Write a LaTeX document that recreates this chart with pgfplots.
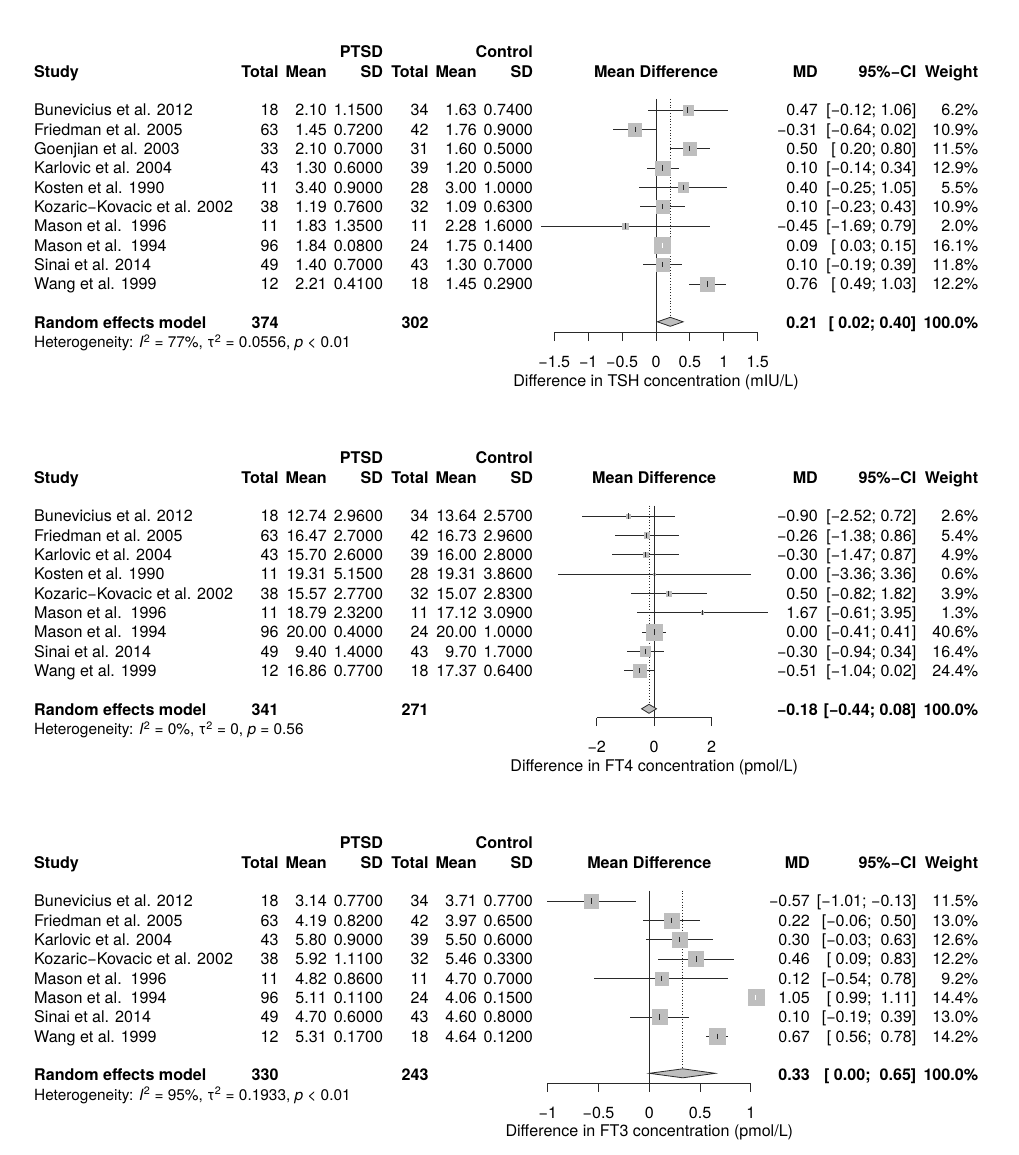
\documentclass[border=0pt]{standalone}
\usepackage{fontspec}
\setmainfont{TeX Gyre Heros}
\usepackage{pgfplots}
\usepackage{pgfplotstable}
\pgfplotsset{compat=1.18}
\definecolor{sqgray}{HTML}{BEBEBE}
\definecolor{lncol}{HTML}{2A2A2A}
\newcommand{\fs}{\fontsize{16.1}{19}\selectfont}
\newcommand{\fsh}{\fontsize{15.4}{18}\selectfont}

% y = -(pixel row), md, lower, upper, weight, k (1 = black CI, 0 = white CI)
\pgfplotstableread{
y md lo hi w k
-110 0.47 -0.12 1.06 6.2 1
-129.33 -0.31 -0.64 0.02 10.9 1
-148.67 0.50 0.20 0.80 11.5 1
-168 0.10 -0.14 0.34 12.9 1
-187.33 0.40 -0.25 1.05 5.5 1
-206.67 0.10 -0.23 0.43 10.9 1
-226 -0.45 -1.69 0.79 2.0 1
-245.33 0.09 0.03 0.15 16.1 0
-264.67 0.10 -0.19 0.39 11.8 1
-284 0.76 0.49 1.03 12.2 1
}\tabA
\pgfplotstableread{
y md lo hi w k
-516 -0.90 -2.52 0.72 2.6 1
-535.33 -0.26 -1.38 0.86 5.4 1
-554.67 -0.30 -1.47 0.87 4.9 1
-574 0.00 -3.36 3.36 0.6 1
-593.33 0.50 -0.82 1.82 3.9 1
-612.67 1.67 -0.61 3.95 1.3 1
-632 0.00 -0.41 0.41 40.6 1
-651.33 -0.30 -0.94 0.34 16.4 1
-670.67 -0.51 -1.04 0.02 24.4 1
}\tabB
\pgfplotstableread{
y md lo hi w k
-901 -0.57 -1.01 -0.13 11.5 1
-920.33 0.22 -0.06 0.50 13.0 1
-939.67 0.30 -0.03 0.63 12.6 1
-959 0.46 0.09 0.83 12.2 1
-978.33 0.12 -0.54 0.78 9.2 1
-997.67 1.05 0.99 1.11 14.4 0
-1017 0.10 -0.19 0.39 13.0 1
-1036.33 0.67 0.56 0.78 14.2 1
}\tabC

\pgfplotsset{
  forest/.style={scale only axis, clip=false,
    axis x line=bottom, axis y line=none,
    axis line style={-, line width=0.9pt, lncol},
    tick align=outside, major tick length=8.5pt,
    tick style={line width=0.9pt, lncol},
    ytick=\empty,
    xticklabel style={anchor=base, yshift=-26.7pt, font=\fs},
    xlabel style={at={(axis description cs:0.5,0)}, anchor=base, yshift=-53.5pt, font=\fs}},
  sq/.style={scatter, only marks, mark=square*,
    scatter/use mapped color={draw=sqgray, fill=sqgray},
    visualization depends on={8*sqrt(\thisrow{w}/#1)\as\msz},
    scatter/@pre marker code/.append style={/tikz/mark size=\msz}},
  ciblack/.style={only marks, mark=|, mark size=2.6pt, mark options={lncol, line width=0.9pt},
    restrict expr to domain={\thisrow{k}}{0.5:1.5},
    error bars/.cd, x dir=both, x explicit, error mark=none,
    error bar style={lncol, line width=0.9pt}},
  ciwhite/.style={only marks, mark=|, mark size=2.6pt, mark options={white, line width=0.9pt},
    restrict expr to domain={\thisrow{k}}{-0.5:0.5},
    error bars/.cd, x dir=both, x explicit, error mark=none,
    error bar style={white, line width=0.9pt}},
}

% column right edges (same in all three panels)
\def\xTa{278.8}\def\xTah{278.8}\def\xMa{327}\def\xSa{383.2}
\def\xTb{428.7}\def\xTbh{428.7}\def\xMb{476.9}\def\xSb{533.1}

\newcommand{\studyrows}[1]{%
  \foreach \qy/\qn/\qa/\qb/\qc/\qd/\qe/\qf/\qg/\qh/\qi in {#1}{%
    \node[L] at (34,\qy) {\qn};
    \node[R] at (\xTa,\qy) {\qa};
    \node[R] at (\xMa,\qy) {\qb};
    \node[R] at (\xSa,\qy) {\qc};
    \node[R] at (\xTb,\qy) {\qd};
    \node[R] at (\xMb,\qy) {\qe};
    \node[R] at (\xSb,\qy) {\qf};
    \node[R] at (\xMD,\qy) {\qg};
    \node[R] at (916.5,\qy) {\qh};
    \node[R] at (978.3,\qy) {\qi};
  }}
\newcommand{\headers}[3]{%
  \node[R,B] at (\xSa,#1) {PTSD};
  \node[R,B] at (\xSb,#1) {Control};
  \node[L,B] at (34,#2) {Study};
  \node[R,B] at (\xTah,#2) {Total};
  \node[R,B] at (\xMa,#2) {Mean};
  \node[R,B] at (\xSa,#2) {SD};
  \node[R,B] at (\xTbh,#2) {Total};
  \node[R,B] at (\xMb,#2) {Mean};
  \node[R,B] at (\xSb,#2) {SD};
  \node[C,B] at (#3,#2) {Mean Difference};
  \node[R,B] at (\xMD,#2) {MD};
  \node[R,B] at (916.5,#2) {95\%−CI};
  \node[R,B] at (978.3,#2) {Weight};
}
\newcommand{\randrow}[6]{%
  \node[L,B] at (34,#1) {Random effects model};
  \node[R,B] at (\xTa,#1) {#2};
  \node[R,B] at (\xTb,#1) {#3};
  \node[R,B] at (\xMD,#1) {#4};
  \node[R,B] at (916.5,#1) {#5};
  \node[R,B] at (978.3,#1) {#6};
}

\begin{document}
\begin{tikzpicture}[x=1pt,y=-1pt,font=\fs,
  R/.style={anchor=base east, inner sep=0pt},
  L/.style={anchor=base west, inner sep=0pt},
  C/.style={anchor=base, inner sep=0pt},
  B/.style={font=\fs\bfseries}]
\useasboundingbox (0,0) rectangle (1018,1155);

% ---------------- Panel 1: TSH ----------------
\def\xMD{818}
\headers{57.8}{77.1}{656}
\studyrows{
115.8/Bunevicius et al. 2012/18/2.10/1.1500/34/1.63/0.7400/0.47/{[−0.12; 1.06]}/6.2\%,
135.13/Friedman et al. 2005/63/1.45/0.7200/42/1.76/0.9000/−0.31/{[−0.64; 0.02]}/10.9\%,
154.47/Goenjian et al. 2003/33/2.10/0.7000/31/1.60/0.5000/0.50/{[~0.20; 0.80]}/11.5\%,
173.8/Karlovic et al. 2004/43/1.30/0.6000/39/1.20/0.5000/0.10/{[−0.14; 0.34]}/12.9\%,
193.13/Kosten et al. 1990/11/3.40/0.9000/28/3.00/1.0000/0.40/{[−0.25; 1.05]}/5.5\%,
212.47/Kozaric−Kovacic et al. 2002/38/1.19/0.7600/32/1.09/0.6300/0.10/{[−0.23; 0.43]}/10.9\%,
231.8/{Mason et al.\ \ 1996}/11/1.83/1.3500/11/2.28/1.6000/−0.45/{[−1.69; 0.79]}/2.0\%,
251.13/{Mason et al.\ \ 1994}/96/1.84/0.0800/24/1.75/0.1400/0.09/{[~0.03; 0.15]}/16.1\%,
270.47/Sinai et al. 2014/49/1.40/0.7000/43/1.30/0.7000/0.10/{[−0.19; 0.39]}/11.8\%,
289.8/Wang et al. 1999/12/2.21/0.4100/18/1.45/0.2900/0.76/{[~0.49; 1.03]}/12.2\%}
\randrow{328.47}{374}{302}{0.21}{[~0.02; 0.40]}{100.0\%}
\node[L,font=\fsh] at (34,347.6) {Heterogeneity: \textit{I}\textsuperscript{2} = 77\%, τ\textsuperscript{2} = 0.0556, \textit{p} < 0.01};

\begin{axis}[forest, at={(554.3pt,-332.5pt)}, anchor=south west,
  width=203.4pt, height=233.5pt, xmin=-1.5, xmax=1.5, ymin=-332.5, ymax=-99,
  xtick={-1.5,-1,-0.5,0,0.5,1,1.5}, xticklabels={−1.5,−1,−0.5,0,0.5,1,1.5},
  xlabel={Difference in TSH concentration (mIU/L)}]
\addplot[lncol, line width=0.9pt] coordinates {(0,-99) (0,-332.5)};
\addplot[lncol, dotted, line width=0.8pt] coordinates {(0.21,-99) (0.21,-317.3)};
\addplot[sq=16.1] table[x=md,y=y] {\tabA};
\addplot[ciblack] table[x=md, y=y, x error plus expr=\thisrow{hi}-\thisrow{md}, x error minus expr=\thisrow{md}-\thisrow{lo}] {\tabA};
\addplot[ciwhite] table[x=md, y=y, x error plus expr=\thisrow{hi}-\thisrow{md}, x error minus expr=\thisrow{md}-\thisrow{lo}] {\tabA};
\addplot[fill=sqgray, draw=lncol, line width=0.8pt] coordinates {(0.02,-321.8) (0.21,-317.3) (0.40,-321.8) (0.21,-326.3)} -- cycle;
\end{axis}

% ---------------- Panel 2: FT4 ----------------
\def\xMD{818}
\headers{463.8}{483.13}{654.2}
\studyrows{
521.8/Bunevicius et al. 2012/18/12.74/2.9600/34/13.64/2.5700/−0.90/{[−2.52; 0.72]}/2.6\%,
541.13/Friedman et al. 2005/63/16.47/2.7000/42/16.73/2.9600/−0.26/{[−1.38; 0.86]}/5.4\%,
560.47/Karlovic et al. 2004/43/15.70/2.6000/39/16.00/2.8000/−0.30/{[−1.47; 0.87]}/4.9\%,
579.8/Kosten et al. 1990/11/19.31/5.1500/28/19.31/3.8600/0.00/{[−3.36; 3.36]}/0.6\%,
599.13/Kozaric−Kovacic et al. 2002/38/15.57/2.7700/32/15.07/2.8300/0.50/{[−0.82; 1.82]}/3.9\%,
618.47/{Mason et al.\ \ 1996}/11/18.79/2.3200/11/17.12/3.0900/1.67/{[−0.61; 3.95]}/1.3\%,
637.8/{Mason et al.\ \ 1994}/96/20.00/0.4000/24/20.00/1.0000/0.00/{[−0.41; 0.41]}/40.6\%,
657.13/Sinai et al. 2014/49/9.40/1.4000/43/9.70/1.7000/−0.30/{[−0.94; 0.34]}/16.4\%,
676.47/Wang et al. 1999/12/16.86/0.7700/18/17.37/0.6400/−0.51/{[−1.04; 0.02]}/24.4\%}
\randrow{715.13}{341}{271}{−0.18}{[−0.44; 0.08]}{100.0\%}
\node[L,font=\fsh] at (34,734.3) {Heterogeneity: \textit{I}\textsuperscript{2} = 0\%, τ\textsuperscript{2} = 0, \textit{p} = 0.56};

\begin{axis}[forest, at={(596.7pt,-717.7pt)}, anchor=south west,
  width=115pt, height=212.2pt, xmin=-2, xmax=2, ymin=-717.7, ymax=-505.5,
  xtick={-2,0,2}, xticklabels={−2,0,2},
  xlabel={Difference in FT4 concentration (pmol/L)}]
\addplot[lncol, line width=0.9pt] coordinates {(0,-505.5) (0,-717.7)};
\addplot[lncol, dotted, line width=0.8pt] coordinates {(-0.18,-505.5) (-0.18,-704.3)};
\addplot[sq=40.6] table[x=md,y=y] {\tabB};
\addplot[ciblack] table[x=md, y=y, x error plus expr=\thisrow{hi}-\thisrow{md}, x error minus expr=\thisrow{md}-\thisrow{lo}] {\tabB};
\addplot[fill=sqgray, draw=lncol, line width=0.8pt] coordinates {(-0.44,-708.8) (-0.18,-704.3) (0.08,-708.8) (-0.18,-713.3)} -- cycle;
\end{axis}

% ---------------- Panel 3: FT3 ----------------
\def\xMD{810}
\headers{848.8}{868.13}{649.3}
\studyrows{
906.8/Bunevicius et al. 2012/18/3.14/0.7700/34/3.71/0.7700/−0.57/{[−1.01; −0.13]}/11.5\%,
926.13/Friedman et al. 2005/63/4.19/0.8200/42/3.97/0.6500/0.22/{[−0.06;~~0.50]}/13.0\%,
945.47/Karlovic et al. 2004/43/5.80/0.9000/39/5.50/0.6000/0.30/{[−0.03;~~0.63]}/12.6\%,
964.8/Kozaric−Kovacic et al. 2002/38/5.92/1.1100/32/5.46/0.3300/0.46/{[~0.09;~~0.83]}/12.2\%,
984.13/{Mason et al.\ \ 1996}/11/4.82/0.8600/11/4.70/0.7000/0.12/{[−0.54;~~0.78]}/9.2\%,
1003.47/{Mason et al.\ \ 1994}/96/5.11/0.1100/24/4.06/0.1500/1.05/{[~0.99;~~1.11]}/14.4\%,
1022.8/Sinai et al. 2014/49/4.70/0.6000/43/4.60/0.8000/0.10/{[−0.19;~~0.39]}/13.0\%,
1042.13/Wang et al. 1999/12/5.31/0.1700/18/4.64/0.1200/0.67/{[~0.56;~~0.78]}/14.2\%}
\randrow{1080.8}{330}{243}{0.33}{[~0.00;~~0.65]}{100.0\%}
\node[L,font=\fsh] at (34,1100) {Heterogeneity: \textit{I}\textsuperscript{2} = 95\%, τ\textsuperscript{2} = 0.1933, \textit{p} < 0.01};

\begin{axis}[forest, at={(547.8pt,-1083.3pt)}, anchor=south west,
  width=203pt, height=192.8pt, xmin=-1, xmax=1, ymin=-1083.3, ymax=-890.5,
  xtick={-1,-0.5,0,0.5,1}, xticklabels={−1,−0.5,0,0.5,1},
  xlabel={Difference in FT3 concentration (pmol/L)}]
\addplot[lncol, line width=0.9pt] coordinates {(0,-890.5) (0,-1083.3)};
\addplot[lncol, dotted, line width=0.8pt] coordinates {(0.33,-890.5) (0.33,-1068.8)};
\addplot[sq=14.4] table[x=md,y=y] {\tabC};
\addplot[ciblack] table[x=md, y=y, x error plus expr=\thisrow{hi}-\thisrow{md}, x error minus expr=\thisrow{md}-\thisrow{lo}] {\tabC};
\addplot[ciwhite] table[x=md, y=y, x error plus expr=\thisrow{hi}-\thisrow{md}, x error minus expr=\thisrow{md}-\thisrow{lo}] {\tabC};
\addplot[fill=sqgray, draw=lncol, line width=0.8pt] coordinates {(0.00,-1073.3) (0.33,-1068.8) (0.65,-1073.3) (0.33,-1077.8)} -- cycle;
\end{axis}
\end{tikzpicture}
\end{document}
